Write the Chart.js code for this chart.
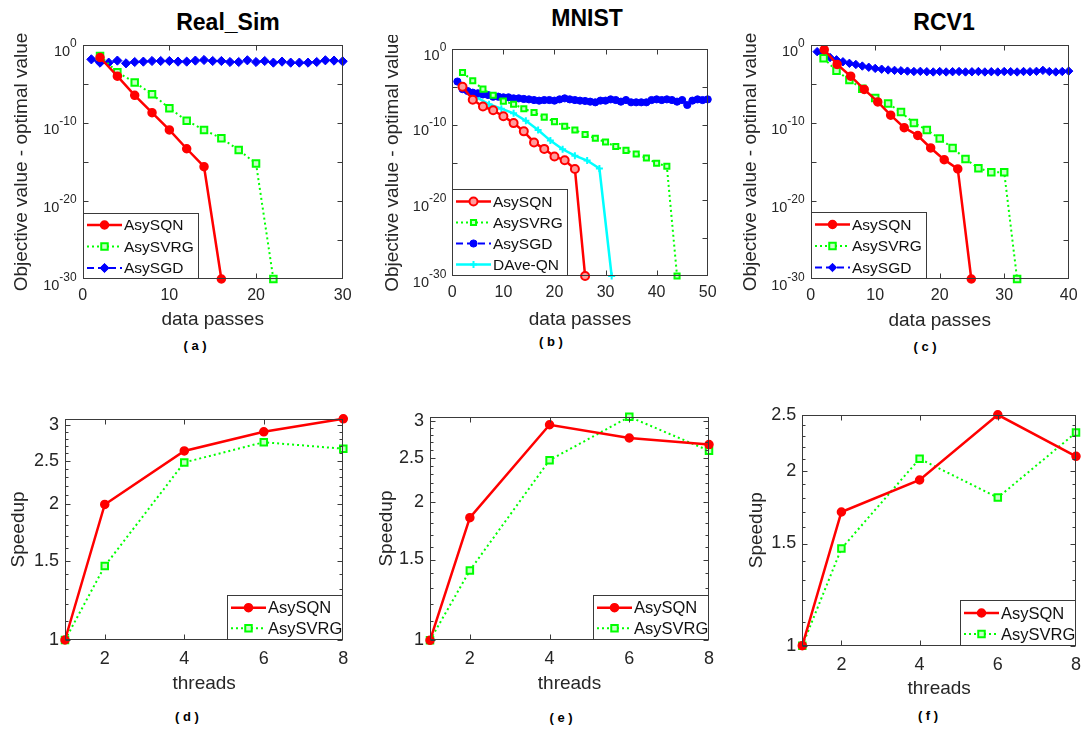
<!DOCTYPE html>
<html>
<head>
<meta charset="utf-8">
<script src="https://cdn.jsdelivr.net/npm/chart.js@4.4.1/dist/chart.umd.min.js"></script>
<style>
  html, body { margin: 0; padding: 0; background: #fff; }
  body { width: 1084px; height: 729px; position: relative; overflow: hidden; }
  canvas { position: absolute; }
  .lbl { position: absolute; transform: translate(-50%, -50%); white-space: nowrap;
         font-family: 'Liberation Sans', Arial, sans-serif; color: #000; }
  .ttl { font-size: 23px; font-weight: bold; }
  .cap { font-size: 13px; font-weight: bold; }
</style>
</head>
<body>
<div class="lbl ttl" style="left:228px;top:22px">Real_Sim</div>
<div class="lbl ttl" style="left:587px;top:18px">MNIST</div>
<div class="lbl ttl" style="left:944px;top:22px">RCV1</div>
<div class="lbl cap" style="left:195px;top:345px">( a )</div>
<div class="lbl cap" style="left:551px;top:341px">( b )</div>
<div class="lbl cap" style="left:925px;top:346px">( c )</div>
<div class="lbl cap" style="left:187px;top:716px">( d )</div>
<div class="lbl cap" style="left:561px;top:717px">( e )</div>
<div class="lbl cap" style="left:928px;top:715px">( f )</div>

<canvas id="chartA"></canvas>
<canvas id="chartB"></canvas>
<canvas id="chartC"></canvas>
<canvas id="chartD"></canvas>
<canvas id="chartE"></canvas>
<canvas id="chartF"></canvas>

<script>
// ---- (a) Real_Sim ----
const simSqnX = [2, 4, 6, 8, 10, 12, 14, 16];
const simSqnY = [2.5e-2, 1e-4, 3.5e-7, 2.1e-9, 1.3e-11, 5e-14, 2.5e-16, 1e-30];
const simSvrgX = [2, 4, 6, 8, 10, 12, 14, 16, 18, 20, 22];
const simSvrgY = [4e-2, 3.2e-4, 1.6e-5, 5e-7, 7.9e-9, 2e-10, 1.3e-11, 1.1e-12, 3.5e-14, 6.3e-16, 1e-30];
const simSgdX = [1, 2, 3, 4, 5, 6, 7, 8, 9, 10, 11, 12, 13, 14, 15, 16, 17, 18, 19, 20, 21, 22, 23, 24, 25, 26, 27, 28, 29, 30];
const simSgdY = [1.45e-2, 5.5e-3, 5.5e-3, 1e-2, 4.5e-3, 6.6e-3, 7.4e-3, 8.9e-3, 8.9e-3, 8.9e-3,
                 7.4e-3, 7.4e-3, 1e-2, 1.2e-2, 8.9e-3, 8.9e-3, 6.6e-3, 6.6e-3, 1.1e-2, 6.6e-3,
                 8.9e-3, 5.5e-3, 7.4e-3, 5.5e-3, 5.5e-3, 5.5e-3, 6.6e-3, 1.1e-2, 1e-2, 8.1e-3];

// ---- (b) MNIST ----
const mnSqnX = [2, 4, 6, 8, 10, 12, 14, 16, 18, 20, 22, 24, 26];
const mnSqnY = [1e-5, 2e-7, 2.5e-8, 7.9e-9, 1.3e-9, 1.6e-10, 1.3e-11, 4.5e-13, 6.3e-14, 6.3e-15, 2e-15, 1.4e-16, 1e-30];
const mnSvrgX = [2, 4, 6, 8, 10, 12, 14, 16, 18, 20, 22, 24, 26, 28, 30, 32, 34, 36, 38, 40, 42, 44];
const mnSvrgY = [7.9e-4, 6.3e-5, 5e-6, 7.9e-7, 1.3e-7, 5e-8, 1.3e-8, 4e-9, 1e-9, 2.5e-10, 6.3e-11,
                 2e-11, 5e-12, 1.6e-12, 5e-13, 1.3e-13, 4e-14, 1.3e-14, 4e-15, 7.9e-16, 3.2e-16, 1e-30];
const mnSgdX = [1, 2, 3, 4, 5, 6, 7, 8, 9, 10, 11, 12, 13, 14, 15, 16, 17, 18, 19, 20, 21, 22, 23, 24, 25,
                26, 27, 28, 29, 30, 31, 32, 33, 34, 35, 36, 37, 38, 39, 40, 41, 42, 43, 44, 45, 46, 47, 48, 49, 50];
const mnSgdY = [5e-5, 5e-6, 2.8e-6, 1.7e-6, 1.4e-6, 1e-6, 8.3e-7, 5e-7, 5e-7, 4.1e-7,
                4.1e-7, 3e-7, 3e-7, 2.5e-7, 2.2e-7, 1.8e-7, 1.5e-7, 1.8e-7, 1.8e-7, 1.5e-7,
                2.2e-7, 3e-7, 2.2e-7, 1.8e-7, 1.5e-7, 1.35e-7, 1.1e-7, 9e-8, 1.5e-7, 1.5e-7,
                2.2e-7, 1.8e-7, 1.1e-7, 1.8e-7, 9e-8, 9e-8, 9e-8, 9e-8, 1.8e-7, 2.2e-7,
                1.8e-7, 2.2e-7, 1.8e-7, 1.1e-7, 1.8e-7, 4e-8, 1.5e-7, 2.2e-7, 1.8e-7, 2.2e-7];
const mnDaveX = [2.4, 4.8, 7.2, 9.6, 12, 14.4, 16.8, 19.2, 21.6, 24, 26.4, 28.8, 31.2];
const mnDaveY = [6.3e-6, 4e-7, 5e-8, 1.3e-8, 3.2e-9, 3.2e-10, 2e-11, 7.9e-13, 5.6e-14, 7.9e-15, 1.8e-15, 1.6e-16, 1e-30];

// ---- (c) RCV1 ----
const rcSqnX = [2.1, 4.1, 6.2, 8.3, 10.4, 12.4, 14.5, 16.6, 18.6, 20.7, 22.8, 24.9];
const rcSqnY = [0.25, 3.2e-3, 1e-4, 2e-6, 5e-8, 1e-9, 2.5e-11, 2.5e-12, 6.3e-14, 2e-15, 1.3e-16, 1e-30];
const rcSvrgX = [2, 4, 6, 8, 10, 12, 14, 16, 18, 20, 22, 24, 26, 28, 30, 32];
const rcSvrgY = [2e-2, 5e-4, 3.2e-5, 2.5e-6, 1.6e-7, 3.2e-8, 2.5e-9, 1e-10, 1.3e-11, 1e-12, 6.3e-14,
                 2.5e-15, 1.6e-16, 5e-17, 5e-17, 1e-30];
const rcSgdX = [1, 2, 3, 4, 5, 6, 7, 8, 9, 10, 11, 12, 13, 14, 15, 16, 17, 18, 19, 20,
                21, 22, 23, 24, 25, 26, 27, 28, 29, 30, 31, 32, 33, 34, 35, 36, 37, 38, 39, 40];
const rcSgdY = [0.14, 6.3e-2, 2.5e-2, 1.26e-2, 7.1e-3, 4.5e-3, 3.2e-3, 2e-3, 1.4e-3, 1e-3,
                7.9e-4, 6.3e-4, 5.6e-4, 5e-4, 4.5e-4, 4e-4, 4.2e-4, 3.8e-4, 3.5e-4, 4e-4,
                3.5e-4, 3.8e-4, 4e-4, 3.5e-4, 3.7e-4, 4e-4, 3.5e-4, 3.8e-4, 3.5e-4, 4e-4,
                3.8e-4, 3.5e-4, 4e-4, 3.8e-4, 4.2e-4, 5.6e-4, 4e-4, 3.5e-4, 4e-4, 4.5e-4];

// ---- speedup (d, e, f) ----
const threads = [1, 2, 4, 6, 8];
const simSpeedSqn = [1, 2.0, 2.63, 2.9, 3.1];
const simSpeedSvrg = [1, 1.46, 2.48, 2.75, 2.66];
const mnSpeedSqn = [1, 1.85, 2.95, 2.76, 2.67];
const mnSpeedSvrg = [1, 1.42, 2.47, 3.07, 2.59];
const rcSpeedSqn = [1, 1.70, 1.93, 2.5, 2.12];
const rcSpeedSvrg = [1, 1.47, 2.10, 1.80, 2.33];

// ---- ticks ----
const gapTicks = [1e-30, 1e-20, 1e-10, 1];
const gapPowers = ['-30', '-20', '-10', '0'];
const gapMarks = [1e-25, 1e-20, 1e-15, 1e-10, 1e-5];
const passTicks30 = [0, 10, 20, 30];
const passTicks50 = [0, 10, 20, 30, 40, 50];
const passTicks40 = [0, 10, 20, 30, 40];
const threadTicks = [2, 4, 6, 8];
const speedTicks = [1, 1.5, 2, 2.5, 3];
const speedLabels = ['1', '1.5', '2', '2.5', '3'];
const speedMinor = [1.1, 1.2, 1.3, 1.4, 1.6, 1.7, 1.8, 1.9, 2.1, 2.2, 2.3, 2.4, 2.6, 2.7, 2.8, 2.9, 3.1];

const INK = '#262626';
const FONT = "'Liberation Sans', Arial, 'DejaVu Sans', sans-serif";

const sqnStyle = { borderColor: '#ff0000', borderWidth: 2.5, borderDash: [], pointStyle: 'circle',
  pointRadius: 4, pointBackgroundColor: '#ff0000', pointBorderWidth: 1.5 };
const svrgStyle = { borderColor: '#00ff00', borderWidth: 2, borderDash: [2, 3], pointStyle: 'rect',
  pointRadius: 4.6, pointBackgroundColor: '#c8ffc8', pointBorderWidth: 2 };
const sgdStyle = { borderColor: '#0000ff', borderWidth: 2, borderDash: [7, 4], pointStyle: 'rectRot',
  pointRadius: 4.6, pointBackgroundColor: '#0000ff', pointBorderWidth: 1 };
const daveStyle = { borderColor: '#00ffff', borderWidth: 2.5, borderDash: [], pointStyle: 'cross',
  pointRadius: 3.5, pointBackgroundColor: '#00ffff', pointBorderWidth: 2 };

function serie(xs, ys, label, style, extra) {
  return Object.assign({
    label: label,
    data: xs.map((x, i) => ({ x: x, y: ys[i] })),
    pointBorderColor: style.borderColor,
    pointHoverRadius: style.pointRadius,
    fill: false,
    tension: 0,
    clip: false
  }, style, extra || {});
}

const panels = [
  { id: 'chartA', box: [82.7, 45, 342.7, 279], yTitleX: 21.5, xTitleGap: 40,
    xMin: 0, xMax: 30, xTicks: passTicks30, xMarks: [10, 20],
    yMin: 1e-30, yMax: 1, yTicks: gapTicks, yPowers: gapPowers, yMarks: gapMarks, yMinor: [],
    xTitle: 'data passes', yTitle: 'Objective value - optimal value',
    xFont: 16, yFont: 15, xPad: 7.4, legend: 'sw', legendFont: 15.5, legendStep: 21.5, legendFirst: 12,
    datasets: [
      serie(simSqnX, simSqnY, 'AsySQN', sqnStyle),
      serie(simSvrgX, simSvrgY, 'AsySVRG', svrgStyle),
      serie(simSgdX, simSgdY, 'AsySGD', sgdStyle)
    ] },
  { id: 'chartB', box: [452.3, 49, 708.3, 276], yTitleX: 392.5, xTitleGap: 43,
    xMin: 0, xMax: 50, xTicks: passTicks50, xMarks: [10, 20, 30, 40],
    yMin: 1e-30, yMax: 1, yTicks: gapTicks, yPowers: gapPowers, yMarks: gapMarks, yMinor: [],
    xTitle: 'data passes', yTitle: 'Objective value - optimal value',
    xFont: 16, yFont: 15, xPad: 7.4, legend: 'sw', legendFont: 15.5, legendStep: 21, legendFirst: 12.5,
    datasets: [
      serie(mnSqnX, mnSqnY, 'AsySQN', sqnStyle, { pointBackgroundColor: '#ff9c9c', pointBorderWidth: 2 }),
      serie(mnSvrgX, mnSvrgY, 'AsySVRG', svrgStyle, { pointRadius: 3.6 }),
      serie(mnSgdX, mnSgdY, 'AsySGD', sgdStyle, { pointStyle: 'circle', pointRadius: 3.6 }),
      serie(mnDaveX, mnDaveY, 'DAve-QN', daveStyle)
    ] },
  { id: 'chartC', box: [810.7, 45, 1069, 279], yTitleX: 750, xTitleGap: 41,
    xMin: 0, xMax: 40, xTicks: passTicks40, xMarks: [10, 20, 30],
    yMin: 1e-30, yMax: 1, yTicks: gapTicks, yPowers: gapPowers, yMarks: gapMarks, yMinor: [],
    xTitle: 'data passes', yTitle: 'Objective value - optimal value',
    xFont: 16, yFont: 15, xPad: 7.4, legend: 'sw', legendFont: 15.5, legendStep: 21.5, legendFirst: 12.5,
    datasets: [
      serie(rcSqnX, rcSqnY, 'AsySQN', sqnStyle),
      serie(rcSvrgX, rcSvrgY, 'AsySVRG', svrgStyle),
      serie(rcSgdX, rcSgdY, 'AsySGD', sgdStyle, { pointRadius: 4.2 })
    ] },
  { id: 'chartD', box: [65, 415.7, 343.3, 640], yTitleX: 18, xTitleGap: 43,
    xMin: 1, xMax: 8, xTicks: threadTicks, xMarks: [2, 4, 6],
    yMin: 1, yMax: 3.1, yTicks: speedTicks, yLabels: speedLabels, yMarks: speedTicks, yMinor: speedMinor,
    xTitle: 'threads', yTitle: 'Speedup',
    xFont: 18, yFont: 18, xPad: 8.2, legend: 'se', legendFont: 16.5, legendStep: 20.6, legendFirst: 12.7,
    datasets: [
      serie(threads, simSpeedSqn, 'AsySQN', sqnStyle),
      serie(threads, simSpeedSvrg, 'AsySVRG', svrgStyle)
    ] },
  { id: 'chartE', box: [430, 414.3, 709, 640.3], yTitleX: 386.7, xTitleGap: 43,
    xMin: 1, xMax: 8, xTicks: threadTicks, xMarks: [2, 4, 6],
    yMin: 1, yMax: 3.07, yTicks: speedTicks, yLabels: speedLabels, yMarks: speedTicks, yMinor: speedMinor,
    xTitle: 'threads', yTitle: 'Speedup',
    xFont: 18, yFont: 18, xPad: 8.2, legend: 'se', legendFont: 16.5, legendStep: 20.6, legendFirst: 12.7,
    datasets: [
      serie(threads, mnSpeedSqn, 'AsySQN', sqnStyle),
      serie(threads, mnSpeedSvrg, 'AsySVRG', svrgStyle)
    ] },
  { id: 'chartF', box: [802.3, 412.3, 1076, 645.7], yTitleX: 756.7, xTitleGap: 42.6,
    xMin: 1, xMax: 8, xTicks: threadTicks, xMarks: [2, 4, 6],
    yMin: 1, yMax: 2.5, yTicks: speedTicks.slice(0, 4), yLabels: speedLabels.slice(0, 4),
    yMarks: speedTicks.slice(0, 4), yMinor: speedMinor.slice(0, 12),
    xTitle: 'threads', yTitle: 'Speedup',
    xFont: 18, yFont: 18, xPad: 8.2, legend: 'se', legendFont: 16.5, legendStep: 21, legendFirst: 13,
    datasets: [
      serie(threads, rcSpeedSqn, 'AsySQN', sqnStyle),
      serie(threads, rcSpeedSvrg, 'AsySVRG', svrgStyle)
    ] }
];

function line(ctx, x1, y1, x2, y2) {
  ctx.beginPath();
  ctx.moveTo(x1, y1);
  ctx.lineTo(x2, y2);
  ctx.stroke();
}

// matlab-like box, inward ticks, 10^n labels and legend inside the axes
function decor(p) {
  return {
    id: 'decor',
    afterDatasetsDraw(chart) {
      const ctx = chart.ctx;
      const a = chart.chartArea;
      const l = Math.round(a.left) + 0.5, r = Math.round(a.right) - 0.5;
      const t = Math.round(a.top) + 0.5, b = Math.round(a.bottom) - 0.5;
      const xs = chart.scales.x, ys = chart.scales.y;
      ctx.save();
      ctx.strokeStyle = '#3a3a3a';
      ctx.lineWidth = 1;
      ctx.strokeRect(l, t, r - l, b - t);
      p.xMarks.forEach(v => {
        const px = Math.round(xs.getPixelForValue(v)) + 0.5;
        line(ctx, px, b, px, b - 5);
        line(ctx, px, t, px, t + 5);
      });
      p.yMarks.forEach(v => {
        const py = Math.round(ys.getPixelForValue(v)) + 0.5;
        line(ctx, l, py, l + 5, py);
        line(ctx, r, py, r - 5, py);
      });
      p.yMinor.forEach(v => {
        if (v >= p.yMax) return;
        const py = Math.round(ys.getPixelForValue(v)) + 0.5;
        line(ctx, l, py, l + 3, py);
        line(ctx, r, py, r - 3, py);
      });
      if (p.yPowers) {
        ctx.fillStyle = INK;
        ctx.textAlign = 'right';
        ctx.textBaseline = 'middle';
        p.yTicks.forEach((v, i) => {
          const py = ys.getPixelForValue(v);
          const xr = a.left - 6;
          ctx.font = '12px ' + FONT;
          const ew = ctx.measureText(p.yPowers[i]).width;
          ctx.fillText(p.yPowers[i], xr, py - 1.5);
          ctx.font = '14.5px ' + FONT;
          ctx.fillText('10', xr - ew, py + 6.5);
        });
      }
      ctx.restore();
    },
    afterDraw(chart) {
      const ctx = chart.ctx;
      const a = chart.chartArea;
      const items = chart.data.datasets;
      const w = 116;
      const h = p.legendFirst + (items.length - 1) * p.legendStep + p.legendFirst - 1;
      const bx = p.legend === 'sw' ? Math.round(a.left) : Math.round(a.right) - w;
      const by = Math.round(a.bottom) - h;
      ctx.save();
      ctx.fillStyle = '#ffffff';
      ctx.fillRect(bx, by, w, h);
      ctx.strokeStyle = '#3a3a3a';
      ctx.lineWidth = 1;
      ctx.strokeRect(bx + 0.5, by + 0.5, w - 1, h - 1);
      items.forEach((ds, i) => {
        const y = by + p.legendFirst + i * p.legendStep;
        ctx.save();
        ctx.strokeStyle = ds.borderColor;
        ctx.lineWidth = ds.borderWidth;
        ctx.setLineDash(ds.borderDash || []);
        line(ctx, bx + 4, y, bx + 39, y);
        ctx.restore();
        ctx.save();
        ctx.fillStyle = ds.pointBackgroundColor;
        ctx.strokeStyle = ds.borderColor;
        ctx.lineWidth = ds.pointBorderWidth;
        Chart.helpers.drawPoint(ctx, { pointStyle: ds.pointStyle, radius: ds.pointRadius,
          borderWidth: ds.pointBorderWidth, rotation: 0 }, bx + 21.5, y);
        ctx.restore();
        ctx.fillStyle = '#111';
        ctx.font = p.legendFont + 'px ' + FONT;
        ctx.textBaseline = 'middle';
        ctx.textAlign = 'left';
        ctx.fillText(ds.label, bx + 41, y + 1);
      });
      ctx.restore();
    }
  };
}

const PAD_TOP = 14;
const PAD_RIGHT = 16;

panels.forEach(p => {
  const cLeft = Math.round(p.yTitleX - 9.5);
  const cTop = Math.round(p.box[1] - PAD_TOP);
  const cRight = Math.round(p.box[2] + PAD_RIGHT);
  const cBottom = Math.round(p.box[3] + p.xTitleGap + 9.5);
  const canvas = document.getElementById(p.id);
  canvas.width = cRight - cLeft;
  canvas.height = cBottom - cTop;
  canvas.style.left = cLeft + 'px';
  canvas.style.top = cTop + 'px';
  const yAxisW = p.box[0] - cLeft;
  const xAxisH = cBottom - p.box[3];

  new Chart(canvas, {
    type: 'line',
    data: { datasets: p.datasets },
    options: {
      responsive: false,
      animation: false,
      events: [],
      layout: { padding: { left: 0, top: p.box[1] - cTop, right: cRight - p.box[2], bottom: 0 } },
      plugins: { legend: { display: false }, tooltip: { enabled: false }, title: { display: false } },
      scales: {
        x: {
          type: 'linear',
          min: p.xMin,
          max: p.xMax,
          grid: { display: false, drawTicks: false },
          border: { display: false },
          ticks: { autoSkip: false, maxRotation: 0, padding: p.xPad, color: INK,
                   font: { family: FONT, size: p.xFont, lineHeight: 1.2 },
                   callback: v => String(v) },
          afterBuildTicks: s => { s.ticks = p.xTicks.map(v => ({ value: v })); },
          afterFit: s => { s.height = xAxisH; },
          title: { display: true, text: p.xTitle, color: INK, padding: 0,
                   font: { family: FONT, size: 19, lineHeight: 1 } }
        },
        y: {
          type: 'logarithmic',
          min: p.yMin,
          max: p.yMax,
          grid: { display: false, drawTicks: false },
          border: { display: false },
          ticks: { display: !p.yPowers, autoSkip: false, padding: 6, color: INK,
                   font: { family: FONT, size: p.yFont, lineHeight: 1.2 },
                   callback: (v, i) => (p.yLabels ? p.yLabels[i] : '') },
          afterBuildTicks: s => { s.ticks = p.yTicks.map(v => ({ value: v })); },
          afterFit: s => { s.width = yAxisW; },
          title: { display: true, text: p.yTitle, color: INK, padding: 0,
                   font: { family: FONT, size: 19, lineHeight: 1 } }
        }
      }
    },
    plugins: [decor(p)]
  });
});
</script>
</body>
</html>
